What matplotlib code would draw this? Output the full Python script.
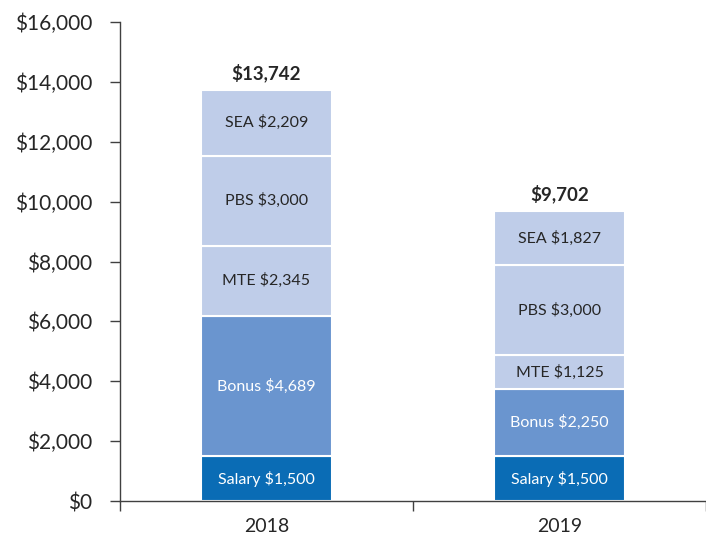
import matplotlib
matplotlib.use("Agg")
import matplotlib.pyplot as plt
from matplotlib.ticker import FuncFormatter

plt.rcParams['font.family'] = ['Lato', 'DejaVu Sans']

years = ["2018", "2019"]
components = ["Salary", "Bonus", "MTE", "PBS", "SEA"]
values = {
    "Salary": [1500, 1500],
    "Bonus": [4689, 2250],
    "MTE": [2345, 1125],
    "PBS": [3000, 3000],
    "SEA": [2209, 1827],
}
totals = [13742, 9702]
yticks = [0, 2000, 4000, 6000, 8000, 10000, 12000, 14000, 16000]

colors = {"Salary": "#0a6cb5", "Bonus": "#6a95cf", "MTE": "#bfcde9",
          "PBS": "#bfcde9", "SEA": "#bfcde9"}
textcol = {"Salary": "white", "Bonus": "white", "MTE": "#262626",
           "PBS": "#262626", "SEA": "#262626"}

fig = plt.figure(figsize=(7.06, 5.38), dpi=100)
ax = fig.add_axes([120/706, 1-501/538, 1-120/706, (501-22)/538])

x = list(range(len(years)))
bottom = [0]*len(years)
for c in components:
    v = values[c]
    ax.bar(x, v, bottom=bottom, width=0.45, color=colors[c],
           edgecolor="white", linewidth=1.5)
    for i in x:
        ax.text(i, bottom[i] + v[i]/2, f"{c} ${v[i]:,}", ha="center", va="center",
                fontsize=11.5, color=textcol[c])
    bottom = [b + vv for b, vv in zip(bottom, v)]

for i in x:
    ax.text(i, totals[i] + 560, f"${totals[i]:,}", ha="center", va="center",
            fontsize=13.5, fontweight="bold", color="#262626")

ax.set_xlim(-0.5, 1.48)
ax.set_ylim(0, 16000)
ax.set_yticks(yticks)
ax.yaxis.set_major_formatter(FuncFormatter(lambda v, p: f"${int(v):,}"))
ax.set_xticks(x)
ax.set_xticklabels(years)
ax.set_xticks([-0.5, 0.5, 1.5], minor=True)
ax.tick_params(axis="x", which="major", length=0, labelsize=14, pad=12, colors="#262626")
ax.tick_params(axis="x", which="minor", length=7, width=1, color="#404040")
ax.tick_params(axis="y", length=7, width=1, labelsize=15, pad=13, colors="#262626", color="#404040")
for s in ["top", "right"]:
    ax.spines[s].set_visible(False)
for s in ["left", "bottom"]:
    ax.spines[s].set_color("#404040")
    ax.spines[s].set_linewidth(1)

fig.savefig("out.png", dpi=100)
